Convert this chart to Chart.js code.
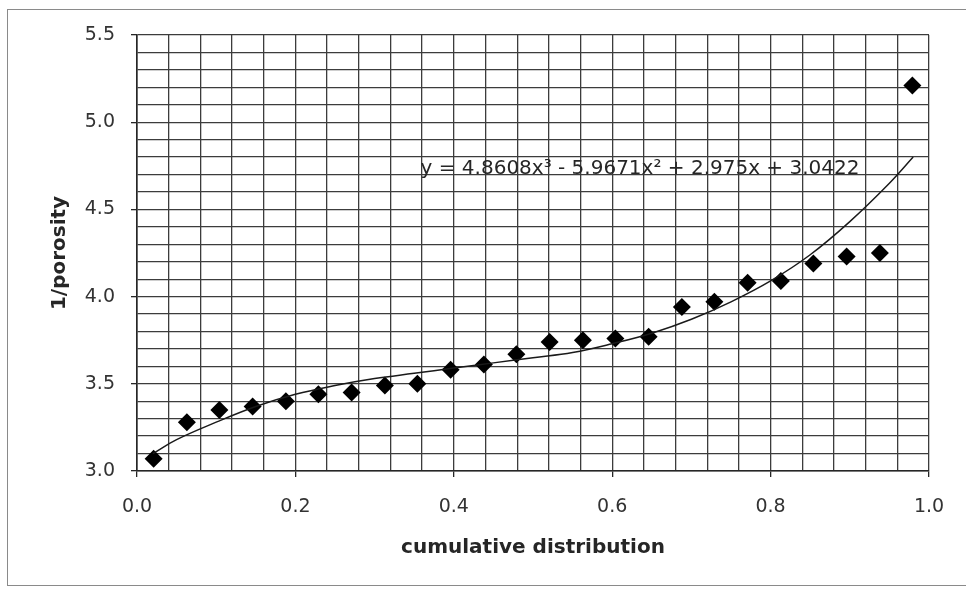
<!DOCTYPE html>
<html>
<head>
<meta charset="utf-8">
<title>1/porosity vs cumulative distribution</title>
<script src="https://cdn.jsdelivr.net/npm/chart.js@4.4.1/dist/chart.umd.min.js"></script>
<style>
  html, body { margin: 0; padding: 0; background: #fff; }
  #wrap { position: relative; width: 966px; height: 592px; overflow: hidden; }
  #frame {
    position: absolute; left: 7px; top: 9px; width: 1000px; height: 575px;
    border: 1.5px solid #8a8a8a;
  }
  #chart { position: absolute; left: 0; top: 0; }
</style>
</head>
<body>
<div id="wrap">
  <div id="frame"></div>
  <canvas id="chart" width="966" height="592"></canvas>
</div>
<script>
// cumulative distribution of each sample
var cumDist = [0.021, 0.063, 0.104, 0.146, 0.188, 0.229, 0.271, 0.313, 0.354, 0.396, 0.438, 0.479,
               0.521, 0.563, 0.604, 0.646, 0.688, 0.729, 0.771, 0.813, 0.854, 0.896, 0.938, 0.979];
// measured 1/porosity
var invPorosity = [3.07, 3.28, 3.35, 3.37, 3.40, 3.44, 3.45, 3.49, 3.50, 3.58, 3.61, 3.67,
                   3.74, 3.75, 3.76, 3.77, 3.94, 3.97, 4.08, 4.09, 4.19, 4.23, 4.25, 5.21];

// cubic trendline
var trendX = [0.02, 0.05, 0.10, 0.15, 0.20, 0.25, 0.30, 0.35, 0.40, 0.45, 0.50,
              0.55, 0.60, 0.65, 0.70, 0.75, 0.80, 0.85, 0.90, 0.95, 0.98];
var trendY = [3.10, 3.18, 3.28, 3.37, 3.44, 3.49, 3.53, 3.56, 3.59, 3.62, 3.65,
              3.68, 3.73, 3.79, 3.87, 3.97, 4.09, 4.24, 4.43, 4.65, 4.80];

var xLabelTicks = [0.0, 0.2, 0.4, 0.6, 0.8, 1.0];
var yLabelTicks = [3.0, 3.5, 4.0, 4.5, 5.0, 5.5];

var equationText = 'y = 4.8608x\u00b3 - 5.9671x\u00b2 + 2.975x + 3.0422';
var equationAnchor = [0.358, 4.73];

(function () {
  'use strict';

  var ink = '#262626';
  var gridColor = '#3c3c3c';

  function isLabelTick(list, v) {
    for (var i = 0; i < list.length; i++) {
      if (Math.abs(list[i] - v) < 1e-6) return true;
    }
    return false;
  }

  var points = cumDist.map(function (x, i) { return { x: x, y: invPorosity[i] }; });
  var trend = trendX.map(function (x, i) { return { x: x, y: trendY[i] }; });

  var equationPlugin = {
    id: 'equationLabel',
    afterDatasetsDraw: function (chart) {
      var ctx = chart.ctx;
      var sx = chart.scales.x, sy = chart.scales.y;
      ctx.save();
      ctx.font = '20px "DejaVu Sans"';
      ctx.fillStyle = ink;
      ctx.textAlign = 'left';
      ctx.textBaseline = 'middle';
      ctx.fillText(equationText, sx.getPixelForValue(equationAnchor[0]), sy.getPixelForValue(equationAnchor[1]));
      ctx.restore();
    }
  };

  Chart.defaults.font.family = '"DejaVu Sans", sans-serif';
  Chart.defaults.color = ink;

  new Chart(document.getElementById('chart'), {
    type: 'scatter',
    data: {
      datasets: [{
        label: 'Poly. trend',
        data: trend,
        showLine: true,
        borderColor: '#1a1a1a',
        borderWidth: 1.5,
        pointRadius: 0,
        tension: 0.4,
        fill: false
      }, {
        label: '1/porosity',
        data: points,
        pointStyle: 'rectRot',
        pointRadius: 9,
        pointHoverRadius: 9,
        backgroundColor: '#000',
        borderColor: '#000',
        borderWidth: 0
      }]
    },
    options: {
      responsive: false,
      animation: false,
      layout: { padding: { left: 0, top: 35, right: 37, bottom: 0 } },
      plugins: { legend: { display: false }, tooltip: { enabled: false } },
      scales: {
        x: {
          type: 'linear',
          min: 0,
          max: 1,
          afterFit: function (s) { s.height = 121; },
          grid: {
            color: gridColor,
            lineWidth: 1.3,
            tickLength: 6,
            tickColor: function (c) { return isLabelTick(xLabelTicks, c.tick.value) ? ink : 'rgba(0,0,0,0)'; }
          },
          border: { color: ink, width: 1.6 },
          ticks: {
            stepSize: 0.04,
            autoSkip: false,
            maxRotation: 0,
            padding: 19,
            font: { size: 19 },
            color: '#333',
            callback: function (v) { return isLabelTick(xLabelTicks, v) ? v.toFixed(1) : ''; }
          },
          title: {
            display: true,
            text: 'cumulative distribution',
            font: { size: 20, weight: 'bold' },
            color: ink,
            padding: { top: 0, bottom: 32 }
          }
        },
        y: {
          type: 'linear',
          min: 3,
          max: 5.5,
          afterFit: function (s) { s.width = 137; },
          grid: {
            color: gridColor,
            lineWidth: 1.3,
            tickLength: 6,
            tickColor: function (c) { return isLabelTick(yLabelTicks, c.tick.value) ? ink : 'rgba(0,0,0,0)'; }
          },
          border: { color: ink, width: 1.6 },
          ticks: {
            stepSize: 0.1,
            autoSkip: false,
            padding: 16,
            font: { size: 19 },
            color: '#333',
            callback: function (v) { return isLabelTick(yLabelTicks, v) ? v.toFixed(1) : ''; }
          },
          title: {
            display: true,
            text: '1/porosity',
            font: { size: 20, weight: 'bold' },
            color: ink,
            padding: { top: 48, bottom: 0 }
          }
        }
      }
    },
    plugins: [equationPlugin]
  });
})();
</script>
</body>
</html>
